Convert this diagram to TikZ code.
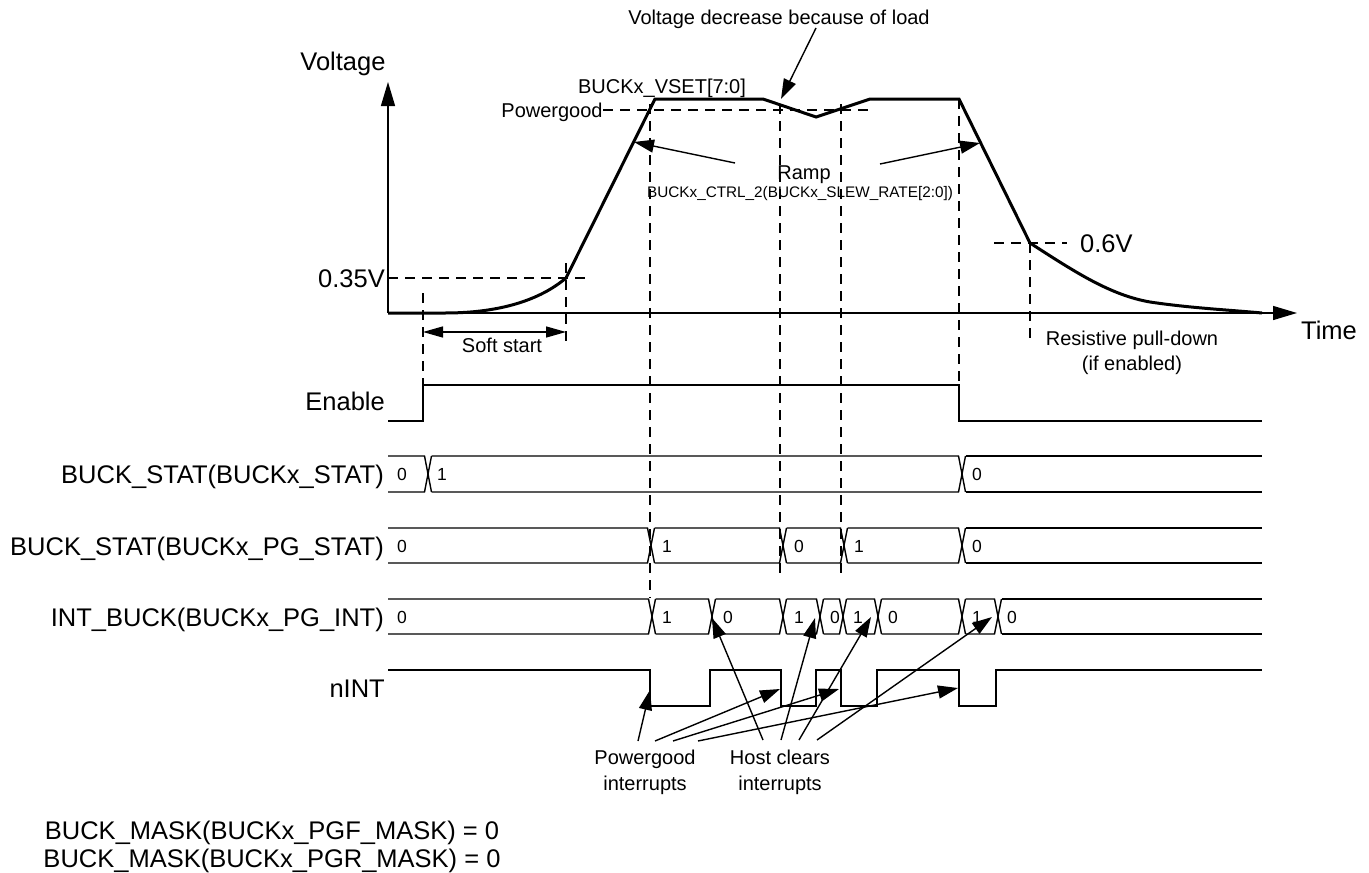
\documentclass[tikz,border=0pt]{standalone}
\usepackage{fontspec}
\setmainfont{Liberation Sans}
\usetikzlibrary{arrows.meta}
\newcommand\mybusrow[3]{%
  \xdef\busprev{388}%
  \foreach \t in {#3}{%
    \draw[sig] (\busprev,#1) -- (\t-3.5,#1) -- (\t+3.5,#2);
    \draw[sig] (\busprev,#2) -- (\t-3.5,#2) -- (\t+3.5,#1);
    \pgfmathsetmacro\busnext{\t+3.5}%
    \xdef\busprev{\busnext}%
  }%
  \draw[sig] (\busprev,#1) -- (1262,#1);
  \draw[sig] (\busprev,#2) -- (1262,#2);
}
\begin{document}
\begin{tikzpicture}[x=1pt,y=-1pt,
  sig/.style={line width=1.4pt},
  volt/.style={line width=3pt, line join=miter},
  dsh/.style={line width=1.4pt, dash pattern=on 10pt off 7pt},
  axis/.style={line width=1.4pt, -{Triangle[length=24pt,width=14pt]}},
  ann/.style={line width=1.4pt, -{Triangle[length=20pt,width=13pt]}},
  dim/.style={line width=1.4pt, {Triangle[length=20pt,width=11pt]}-{Triangle[length=20pt,width=11pt]}},
  big/.style={font=\fontsize{25.5}{29}\selectfont, inner sep=0pt, text height=18.3pt, text depth=0pt},
  mid/.style={font=\fontsize{20}{24}\selectfont, inner sep=0pt, text height=14.3pt, text depth=0pt},
  val/.style={font=\fontsize{17.5}{20}\selectfont, inner sep=0pt, text height=12.5pt, text depth=0pt},
  tiny/.style={font=\fontsize{15.3}{18}\selectfont, inner sep=0pt, text height=11pt, text depth=0pt}]
\useasboundingbox (0,0) rectangle (1369,873);

% ---------- dashed guide lines ----------
\draw[dsh] (388,278) -- (585,278);
\draw[dsh] (603,110) -- (871,110);
\draw[dsh] (994,243) -- (1067,243);
\draw[dsh] (423,293) -- (423,385);
\draw[dsh] (566,263) -- (566,342);
\draw[dsh] (650,104) -- (650,598);
\draw[dsh] (780,104) -- (780,574);
\draw[dsh] (841,104) -- (841,574);
\draw[dsh] (959,99) -- (959,385);
\draw[dsh] (1030,243) -- (1030,345);

% ---------- axes ----------
\coordinate (org) at (388,313);
\coordinate (vtop) at (388,82);
\coordinate (tend) at (1297,313);
\draw[axis] (org) -- (vtop);
\draw[axis] (org) -- (tend);

% ---------- voltage curve ----------
\draw[volt] (388,313) -- (445,313) .. controls (500,313) and (540,300) .. (566,278)
  -- (655,99) -- (763,99) -- (816,117) -- (870,99) -- (959,99) -- (1030,243)
  .. controls (1075,272) and (1110,295) .. (1150,302)
  .. controls (1190,308) and (1230,310) .. (1262,313);

% ---------- labels of the upper plot ----------
\node[big] (lvolt) at (343,61) {Voltage};
\node[big] (ltime) at (1329,330) {Time};
\node[big, anchor=east] (l035) at (385,278) {0.35V};
\node[big, anchor=west] (l06) at (1080,243) {0.6V};
\node[mid] (lsoft) at (502,345) {Soft start};
\node[mid] (lres1) at (1132,338) {Resistive pull-down};
\node[mid] (lres2) at (1132,363) {(if enabled)};
\node[mid] (ldec) at (779,17) {Voltage decrease because of load};
\node[mid] (lvset) at (662,86) {BUCKx\_VSET[7:0]};
\node[mid] (lpg) at (552,110) {Powergood};
\node[mid] (lramp) at (804,172) {Ramp};
\node[tiny] (lslew) at (800,192) {BUCKx\_CTRL\_2(BUCKx\_SLEW\_RATE[2:0])};

% soft start dimension
\coordinate (ss1) at (423,332);
\coordinate (ss2) at (566,332);
\draw[dim] (ss1) -- (ss2);

% annotation arrows, upper plot
\coordinate (dect) at (816,28);
\coordinate (dech) at (781,99);
\draw[ann] (dect) -- (dech);
\coordinate (rlt) at (735,163);
\coordinate (rlh) at (634,142);
\draw[ann] (rlt) -- (rlh);
\coordinate (rrt) at (880,164);
\coordinate (rrh) at (980,143);
\draw[ann] (rrt) -- (rrh);

% ---------- digital signals ----------
\draw[sig] (388,421) -- (423,421) -- (423,385) -- (959,385) -- (959,421) -- (1262,421);
\mybusrow{456}{492}{428,962}
\mybusrow{528}{563}{651,783,844,962}
\mybusrow{599}{634}{652,712,783,820,843,878,962,998}
\draw[sig] (388,670) -- (650,670) -- (650,706) -- (710,706) -- (710,670) -- (781,670)
  -- (781,706) -- (816,706) -- (816,670) -- (841,670) -- (841,706) -- (877,706)
  -- (877,670) -- (959,670) -- (959,706) -- (996,706) -- (996,670) -- (1262,670);

% row labels
\node[big, anchor=east] (nen) at (385,401) {Enable};
\node[big, anchor=east] (nbs) at (384,474) {BUCK\_STAT(BUCKx\_STAT)};
\node[big, anchor=east] (npg) at (384,546) {BUCK\_STAT(BUCKx\_PG\_STAT)};
\node[big, anchor=east] (nint) at (384,617) {INT\_BUCK(BUCKx\_PG\_INT)};
\node[big, anchor=east] (nnint) at (385,688) {nINT};

% values
\foreach \x/\v [count=\i] in {402/0,442/1,977/0}
  \node[val] (va\i) at (\x,474) {\v};
\foreach \x/\v [count=\i] in {402/0,667/1,799/0,859/1,977/0}
  \node[val] (vb\i) at (\x,546) {\v};
\foreach \x/\v [count=\i] in {402/0,667/1,728/0,799/1,835/0,858/1,893/0,977/1,1012/0}
  \node[val] (vc\i) at (\x,617) {\v};

% ---------- interrupt annotations ----------
\node[mid] (pgi1) at (645,757) {Powergood};
\node[mid] (pgi2) at (645,783) {interrupts};
\node[mid] (hc1) at (780,757) {Host clears};
\node[mid] (hc2) at (780,783) {interrupts};

\coordinate (pa) at (638,741);
\coordinate (pb) at (655,741);
\coordinate (pc) at (673,741);
\coordinate (pd) at (698,741);
\coordinate (pta) at (650,690);
\coordinate (ptb) at (780,689);
\coordinate (ptc) at (839,689);
\coordinate (ptd) at (958,688);
\draw[ann] (pa) -- (pta);
\draw[ann] (pb) -- (ptb);
\draw[ann] (pc) -- (ptc);
\draw[ann] (pd) -- (ptd);

\coordinate (ha) at (763,740);
\coordinate (hb) at (781,740);
\coordinate (hcc) at (799,740);
\coordinate (hd) at (817,740);
\coordinate (hta) at (712,618);
\coordinate (htb) at (815,618);
\coordinate (htc) at (871,617);
\coordinate (htd) at (992,617);
\draw[ann] (ha) -- (hta);
\draw[ann] (hb) -- (htb);
\draw[ann] (hcc) -- (htc);
\draw[ann] (hd) -- (htd);

% ---------- bottom notes ----------
\node[big] (m1) at (272,830) {BUCK\_MASK(BUCKx\_PGF\_MASK) = 0};
\node[big] (m2) at (272,858) {BUCK\_MASK(BUCKx\_PGR\_MASK) = 0};
\end{tikzpicture}
\end{document}
